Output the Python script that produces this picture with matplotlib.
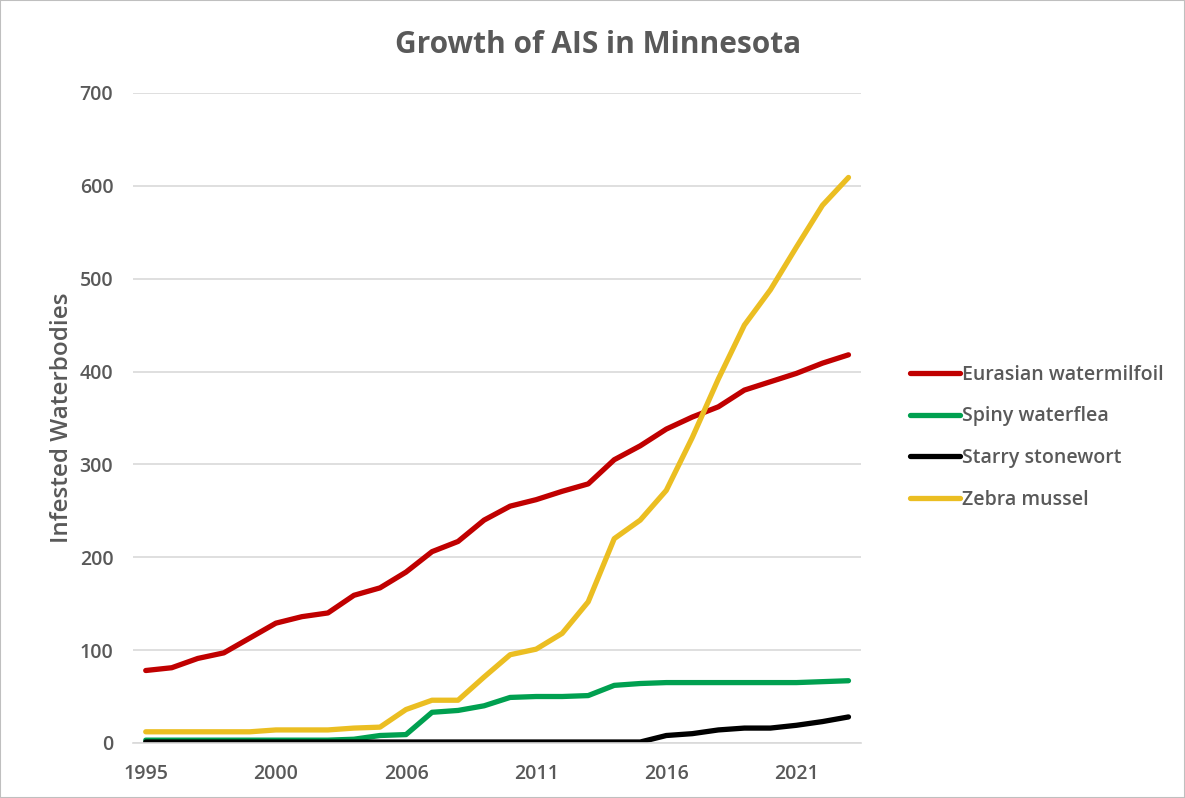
import matplotlib.pyplot as plt

# years on the category axis (one year is missing in the source chart)
years = [1995, 1996, 1997, 1998, 1999, 2000, 2002, 2003, 2004, 2005,
         2006, 2007, 2008, 2009, 2010, 2011, 2012, 2013, 2014, 2015,
         2016, 2017, 2018, 2019, 2020, 2021, 2022, 2023]

milfoil = [78, 81, 91, 97, 113, 129, 136, 140, 159, 167,
           184, 206, 217, 240, 255, 262, 271, 279, 305, 320,
           338, 351, 362, 380, 389, 398, 409, 418]
waterflea = [3, 3, 3, 3, 3, 3, 3, 3, 4, 8,
             9, 33, 35, 40, 49, 50, 50, 51, 62, 64,
             65, 65, 65, 65, 65, 65, 66, 67]
stonewort = [1, 1, 1, 1, 1, 1, 1, 1, 1, 1,
             1, 1, 1, 1, 1, 1, 1, 1, 1, 1,
             8, 10, 14, 16, 16, 19, 23, 28]
zebra = [12, 12, 12, 12, 12, 14, 14, 14, 16, 17,
         36, 46, 46, 71, 95, 101, 118, 152, 220, 240,
         272, 329, 392, 450, 488, 534, 579, 609]

plt.rcParams['font.family'] = ['Open Sans', 'DejaVu Sans']
gray = "#595959"

fig = plt.figure(figsize=(11.85, 7.98), dpi=100)
ax = fig.add_axes([0.112, 0.069, 0.615, 0.8145])

x = range(len(years))
ax.plot(x, milfoil, color="#C00000", lw=3.8, label="Eurasian watermilfoil", solid_capstyle="round")
ax.plot(x, waterflea, color="#00A050", lw=3.8, label="Spiny waterflea", solid_capstyle="round")
ax.plot(x, stonewort, color="#000000", lw=3.8, label="Starry stonewort", solid_capstyle="round")
ax.plot(x, zebra, color="#EBBE22", lw=3.8, label="Zebra mussel", solid_capstyle="round")

ax.set_xlim(-0.5, len(years) - 0.5)
ax.set_ylim(0, 700)
ax.set_yticks(range(0, 701, 100))
ticks = list(range(0, len(years), 5))
ax.set_xticks(ticks)
ax.set_xticklabels([str(years[i]) for i in ticks])
ax.tick_params(length=0, labelsize=14, labelcolor=gray)
ax.tick_params(axis="y", pad=14)
ax.tick_params(axis="x", pad=15)
for lab in ax.get_xticklabels() + ax.get_yticklabels():
    lab.set_fontweight("semibold")

ax.grid(axis="y", color="#D9D9D9", lw=1.2)
ax.set_axisbelow(True)
for s in ["top", "right", "left"]:
    ax.spines[s].set_visible(False)
ax.spines["bottom"].set_color("#D9D9D9")
ax.spines["bottom"].set_linewidth(1.2)

ax.set_ylabel("Infested Waterbodies", fontsize=17.5, color=gray, labelpad=4,
              fontweight="semibold")
fig.suptitle("Growth of AIS in Minnesota", x=0.505, y=0.963, fontsize=21.5,
             fontweight="bold", color=gray)

leg = fig.legend(loc="upper left", bbox_to_anchor=(0.753, 0.565), frameon=False,
                 fontsize=14, handlelength=2.6, handletextpad=0.1, labelspacing=1.12)
for t in leg.get_texts():
    t.set_color(gray)
    t.set_fontweight("semibold")

fig.patches.append(plt.Rectangle((0, 0), 1, 1, transform=fig.transFigure,
                                 fill=False, edgecolor="#BFBFBF", lw=1.5))

fig.savefig("out.png", dpi=100)
